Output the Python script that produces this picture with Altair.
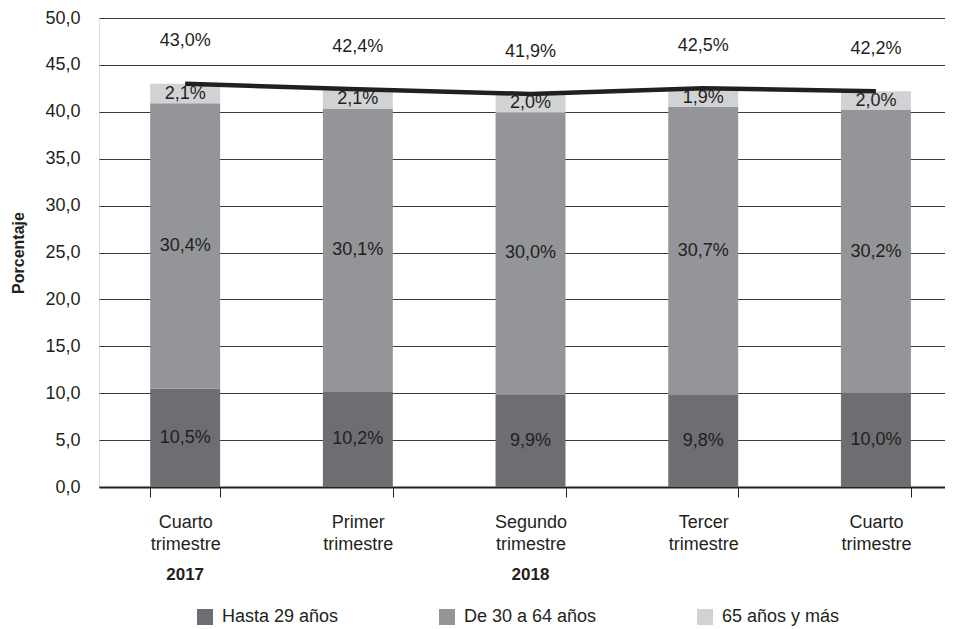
import altair as alt
import pandas as pd

quarters = ["Cuarto trimestre", "Primer trimestre", "Segundo trimestre", "Tercer trimestre", "Cuarto trimestre"]
years = ["2017", "2018", "2018", "2018", "2018"]
groups = ["Hasta 29 años", "De 30 a 64 años", "65 años y más"]
hasta29 = [10.5, 10.2, 9.9, 9.8, 10.0]
de30a64 = [30.4, 30.1, 30.0, 30.7, 30.2]
mas65 = [2.1, 2.1, 2.0, 1.9, 2.0]
totals = [43.0, 42.4, 41.9, 42.5, 42.2]
year_labels = ["2017", "2018"]
year_label_pos = [0, 2]
colors = ["#6d6e71", "#939598", "#d1d2d4"]

keys = [f"{q}|{i}" for i, q in enumerate(quarters)]

rows = []
for i, k in enumerate(keys):
    for gi, (g, vals) in enumerate(zip(groups, [hasta29, de30a64, mas65])):
        rows.append({"cat": k, "grupo": g, "orden": gi, "valor": vals[i]})
bars_df = pd.DataFrame(rows)
tot_df = pd.DataFrame({"cat": keys, "total": totals})
yr_df = pd.DataFrame({"cat": [keys[p] for p in year_label_pos], "anio": year_labels})

FONT = "Liberation Sans"
FS = 18
fmt = "replace(format(datum.{f}, '.1f'), '.', ',') + '%'"

xscale = alt.Scale(domain=keys, paddingInner=0.595, paddingOuter=0.247, align=0.6)
x = alt.X("cat:N", scale=xscale, sort=keys, title=None,
          axis=alt.Axis(labelExpr="split(split(datum.label, '|')[0], ' ')",
                        labelAngle=0, labelFontSize=FS, labelColor="#231f20",
                        labelFont=FONT, labelLineHeight=22, labelPadding=16,
                        labelBaseline="top",
                        tickBand="extent", tickSize=10, tickColor="#231f20", tickWidth=1,
                        domainColor="#231f20", domainWidth=2, grid=False))

base = alt.Chart(bars_df)

bars = base.mark_bar().encode(
    x=x,
    y=alt.Y("valor:Q", stack="zero",
            scale=alt.Scale(domain=[0, 50], nice=False),
            title="Porcentaje",
            axis=alt.Axis(values=list(range(0, 55, 5)),
                          labelExpr="replace(format(datum.value, '.1f'), '.', ',')",
                          labelFontSize=FS, labelColor="#231f20", labelFont=FONT,
                          labelPadding=19, domain=False, ticks=False,
                          grid=True, gridColor="#3a3a3a", gridWidth=1,
                          titleFont=FONT, titleFontSize=16, titleFontWeight="bold",
                          titleColor="#231f20", titlePadding=18)),
    color=alt.Color("grupo:N", scale=alt.Scale(domain=groups, range=colors),
                    legend=alt.Legend(title=None, orient="none", direction="horizontal",
                                      legendX=97, legendY=590,
                                      symbolType="square", symbolSize=256,
                                      symbolStrokeWidth=0, symbolOpacity=1,
                                      labelFontSize=FS, labelFont=FONT,
                                      labelColor="#231f20", labelOffset=8,
                                      columnPadding=99)),
    order=alt.Order("orden:Q"),
)

seg_text = base.transform_stack(
    stack="valor", groupby=["cat"], as_=["v0", "v1"], sort=[alt.SortField("orden")]
).transform_calculate(
    mid="(datum.v0 + datum.v1) / 2",
    lab=fmt.format(f="valor"),
).mark_text(font=FONT, fontSize=FS, color="#231f20", baseline="middle").encode(
    x=alt.X("cat:N", scale=xscale, sort=keys),
    y=alt.Y("mid:Q"),
    text="lab:N",
)

line = alt.Chart(tot_df).mark_line(color="#231f20", strokeWidth=4.5).encode(
    x=alt.X("cat:N", scale=xscale, sort=keys),
    y=alt.Y("total:Q"),
)

tot_text = alt.Chart(tot_df).transform_calculate(
    pos="datum.total + 4.5",
    lab=fmt.format(f="total"),
).mark_text(font=FONT, fontSize=FS, color="#231f20", baseline="middle").encode(
    x=alt.X("cat:N", scale=xscale, sort=keys),
    y=alt.Y("pos:Q"),
    text="lab:N",
)

yr_text = alt.Chart(yr_df).mark_text(font=FONT, fontSize=17, fontWeight="bold",
                                     color="#231f20", baseline="middle").encode(
    x=alt.X("cat:N", scale=xscale, sort=keys),
    y=alt.value(557),
    text="anio:N",
)

chart = alt.layer(bars, seg_text, line, tot_text, yr_text).properties(
    width=846, height=469,
    padding={"left": 2, "top": 1, "right": 0, "bottom": 0},
).configure_view(stroke=None).configure(background="white")

chart.save("out.html", embed_options={"renderer": "svg", "actions": False})
